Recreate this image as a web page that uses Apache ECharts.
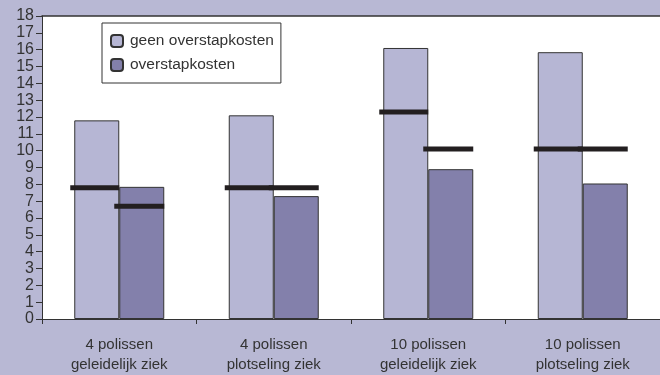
<!DOCTYPE html>
<html>
<head>
<meta charset="utf-8">
<style>
  html, body { margin: 0; padding: 0; background: #b8b8d4; }
  #chart { width: 660px; height: 375px; }
</style>
<script src="https://cdn.jsdelivr.net/npm/echarts@6/dist/echarts.min.js"></script>
</head>
<body>
<div id="chart"></div>
<script>
// Categories (two-line labels)
const categories = [
  '4 polissen\ngeleidelijk ziek',
  '4 polissen\nplotseling ziek',
  '10 polissen\ngeleidelijk ziek',
  '10 polissen\nplotseling ziek'
];
// Bar heights
const geenOverstap = [11.8, 12.1, 16.1, 15.85];
const metOverstap = [7.85, 7.3, 8.9, 8.05];
// Horizontal reference marks drawn over each bar
const geenOverstapMark = [7.8, 7.8, 12.3, 10.1];
const metOverstapMark = [6.7, 7.8, 10.1, 10.1];
// Y-axis range
const yMin = 0, yMax = 18, yStep = 1;

const BAR_W = 45;
const FONT = 'Liberation Sans, Arial, sans-serif';
const TEXT = '#333333';

// Draws a thick horizontal bar-mark spanning [x+from, x+to] at the value height
function markRenderer(from, to) {
  return function (params, api) {
    const p = api.coord([api.value(0), api.value(1)]);
    const h = 5;
    return {
      type: 'rect',
      shape: { x: p[0] + from, y: p[1] - h / 2, width: to - from, height: h },
      style: { fill: '#231f20' }
    };
  };
}

const chart = echarts.init(document.getElementById('chart'));
chart.setOption({
  backgroundColor: '#b8b8d4',
  animation: false,
  textStyle: { fontFamily: FONT },
  grid: {
    left: 42, right: 0, top: 16, bottom: 54,
    show: true, backgroundColor: '#ffffff', borderWidth: 0
  },
  legend: {
    data: ['geen overstapkosten', 'overstapkosten'],
    orient: 'vertical',
    left: 102, top: 23,
    padding: [10, 7, 10, 8],
    itemGap: 8,
    itemWidth: 12, itemHeight: 12,
    backgroundColor: '#ffffff',
    borderColor: '#333333', borderWidth: 1,
    textStyle: { fontFamily: FONT, fontSize: 15.5, color: TEXT, padding: [0, 0, 0, 2] }
  },
  xAxis: [{
    type: 'category',
    data: categories,
    axisLine: { lineStyle: { color: '#333333', width: 1 } },
    axisTick: { show: true, length: 5, lineStyle: { color: '#333333' } },
    axisLabel: { fontFamily: FONT, fontSize: 15, color: TEXT, margin: 16, lineHeight: 20 },
    splitLine: { show: false }
  }, {
    type: 'category',
    data: categories,
    position: 'top',
    axisLine: { lineStyle: { color: '#333333', width: 1.5 } },
    axisTick: { show: false },
    axisLabel: { show: false }
  }],
  yAxis: {
    type: 'value',
    min: yMin, max: yMax, interval: yStep,
    axisLine: { show: true, lineStyle: { color: '#333333', width: 1 } },
    axisTick: { show: true, length: 6, lineStyle: { color: '#333333' } },
    axisLabel: { fontFamily: FONT, fontSize: 16, color: TEXT, margin: 8 },
    splitLine: { show: false }
  },
  series: [{
    name: 'geen overstapkosten',
    type: 'bar',
    data: geenOverstap,
    barWidth: BAR_W,
    barGap: '0%',
    itemStyle: { color: '#b6b6d4', borderColor: '#333333', borderWidth: 1 }
  }, {
    name: 'overstapkosten',
    type: 'bar',
    data: metOverstap,
    barWidth: BAR_W,
    barGap: '0%',
    itemStyle: { color: '#8380ab', borderColor: '#333333', borderWidth: 1 }
  }, {
    name: 'mark-geen',
    type: 'custom',
    renderItem: markRenderer(-49, 0),
    data: geenOverstapMark.map((v, i) => [i, v]),
    z: 5
  }, {
    name: 'mark-met',
    type: 'custom',
    renderItem: markRenderer(-5, 45),
    data: metOverstapMark.map((v, i) => [i, v]),
    z: 5
  }]
});
</script>
</body>
</html>
